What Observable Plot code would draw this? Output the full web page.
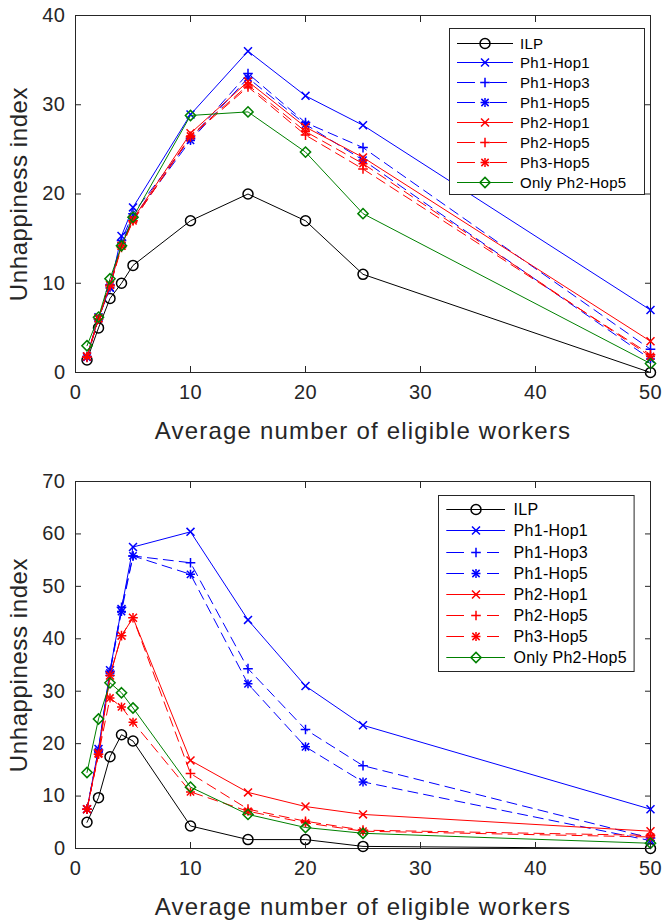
<!DOCTYPE html>
<html><head><meta charset="utf-8">
<script src="https://cdn.jsdelivr.net/npm/d3@7"></script>
<script src="https://cdn.jsdelivr.net/npm/@observablehq/plot@0.6"></script>
<style>
body{margin:0;background:#fff;}
#wrap{position:relative;width:662px;height:924px;font-family:"Liberation Sans",Arial,sans-serif;}
.panel{position:relative;width:662px;height:462px;}
.panel svg{display:block;}
.legend{position:absolute;}
g[aria-label="x-axis label"], g[aria-label="y-axis label"]{font-size:24px !important;}
g[aria-label="x-axis label"] text{letter-spacing:1.2px;}
g[aria-label="y-axis label"] text{letter-spacing:0.6px;}
g[aria-label="x-axis tick label"] text, g[aria-label="y-axis tick label"] text{letter-spacing:0.5px;}
</style></head><body><div id="wrap"></div>
<script>
const xVals = [1, 2, 3, 4, 5, 10, 15, 20, 25, 50];
const seriesNames = ["ILP", "Ph1-Hop1", "Ph1-Hop3", "Ph1-Hop5", "Ph2-Hop1", "Ph2-Hop5", "Ph3-Hop5", "Only Ph2-Hop5"];
const seriesColors = ["#000000", "#0000ff", "#0000ff", "#0000ff", "#ff0000", "#ff0000", "#ff0000", "#008000"];
const seriesDashed = [false, false, true, true, false, true, true, false];
const seriesMarkers = ["o", "x", "+", "*", "x", "+", "*", "d"];

// Top panel
const ilpTop    = [1.4, 5.0, 8.3, 10.0, 12.0, 17.0, 20.0, 17.0, 11.0, 0.0];
const p1h1Top   = [1.8, 6.2, 9.5, 15.3, 18.5, 28.9, 36.0, 31.0, 27.7, 7.0];
const p1h3Top   = [1.8, 6.0, 9.8, 14.8, 17.8, 26.2, 33.5, 28.0, 25.2, 2.6];
const p1h5Top   = [1.7, 6.0, 9.5, 14.5, 17.3, 26.0, 33.0, 27.8, 23.8, 1.5];
const p2h1Top   = [1.8, 6.1, 9.8, 14.2, 17.2, 26.8, 32.6, 27.5, 24.1, 3.5];
const p2h5Top   = [1.7, 6.0, 9.7, 14.0, 17.0, 26.4, 32.0, 26.6, 22.8, 2.0];
const p3h5Top   = [1.8, 6.0, 9.8, 14.2, 17.0, 26.5, 32.2, 27.0, 23.4, 1.8];
const onlyTop   = [3.0, 6.2, 10.5, 14.2, 17.4, 28.8, 29.2, 24.7, 17.8, 1.0];

// Bottom panel
const ilpBot    = [5.0, 9.7, 17.5, 21.7, 20.5, 4.3, 1.7, 1.7, 0.4, 0.0];
const p1h1Bot   = [7.5, 19.0, 34.0, 45.7, 57.5, 60.4, 43.6, 31.0, 23.5, 7.5];
const p1h3Bot   = [7.5, 18.8, 33.8, 46.0, 55.8, 54.5, 34.3, 22.7, 15.8, 2.0];
const p1h5Bot   = [7.5, 18.5, 33.5, 45.2, 55.8, 52.3, 31.4, 19.4, 12.7, 1.5];
const p2h1Bot   = [7.5, 18.2, 33.0, 40.6, 44.0, 16.8, 10.7, 8.0, 6.5, 3.3];
const p2h5Bot   = [7.5, 18.0, 33.0, 40.6, 44.0, 14.3, 7.5, 5.2, 3.5, 2.5];
const p3h5Bot   = [7.5, 18.0, 28.7, 27.0, 24.1, 10.8, 7.1, 4.9, 3.3, 2.2];
const onlyBot   = [14.5, 24.7, 31.6, 29.7, 26.8, 11.7, 6.5, 4.0, 2.9, 1.0];

const xTicks = [0, 10, 20, 30, 40, 50];
const yTicksTop = [0, 10, 20, 30, 40];
const yTicksBot = [0, 10, 20, 30, 40, 50, 60, 70];
const xLabel = "Average number of eligible workers";
const yLabel = "Unhappiness index";

const markerDefs = {
  "o": [{symbol: "circle", r: 5}],
  "x": [{symbol: "times", r: 3.7}],
  "+": [{symbol: "plus", r: 3.2}],
  "*": [{symbol: "plus", r: 3.0}, {symbol: "times", r: 3.4}],
  "d": [{symbol: "diamond2", r: 4.6}]
};
const d3Sym = {circle: d3.symbolCircle, times: d3.symbolTimes, plus: d3.symbolPlus, diamond2: d3.symbolDiamond2};

function makePanel(seriesData, yDomain, yTicks, m) {
  const marks = [Plot.frame({stroke: "#262626", strokeWidth: 1})];
  seriesNames.forEach((name, si) => {
    const rows = xVals.map((x, i) => ({x, y: seriesData[si][i], series: name}));
    marks.push(Plot.line(rows, {x: "x", y: "y", stroke: seriesColors[si], strokeWidth: 1,
      strokeDasharray: seriesDashed[si] ? "10,6" : null}));
    markerDefs[seriesMarkers[si]].forEach(md => {
      marks.push(Plot.dot(rows, {x: "x", y: "y", symbol: md.symbol, r: md.r, stroke: seriesColors[si], strokeWidth: 1.5, fill: "none"}));
    });
  });
  marks.push(
    Plot.axisX(xTicks, {anchor: "bottom", tickSize: -6, text: null, label: null, stroke: "#262626"}),
    Plot.axisX(xTicks, {anchor: "top", tickSize: -6, text: null, label: null, stroke: "#262626"}),
    Plot.axisY(yTicks, {anchor: "left", tickSize: -6, text: null, label: null, stroke: "#262626"}),
    Plot.axisY(yTicks, {anchor: "right", tickSize: -6, text: null, label: null, stroke: "#262626"}),
    Plot.axisX(xTicks, {anchor: "bottom", tickSize: 0, tickPadding: 12, label: xLabel, labelAnchor: "center", labelArrow: "none", labelOffset: m.xLabelOffset, fill: "#262626"}),
    Plot.axisY(yTicks, {anchor: "left", tickSize: 0, tickPadding: 10, label: yLabel, labelAnchor: "center", labelOffset: m.yLabelOffset, labelArrow: "none", fill: "#262626"})
  );
  return Plot.plot({
    width: 662, height: 462,
    marginLeft: 75, marginRight: 12, marginTop: m.top, marginBottom: m.bottom,
    x: {domain: [0, 50]},
    y: {domain: yDomain},
    style: {fontFamily: "'Liberation Sans', Arial, sans-serif", fontSize: "20px", color: "#262626", background: "#fff"},
    marks
  });
}

function makeLegend(box) {
  const svg = d3.create("svg").attr("width", box.w + 2).attr("height", box.h + 2);
  svg.append("rect").attr("x", 0.5).attr("y", 0.5).attr("width", box.w).attr("height", box.h)
    .attr("fill", "#fff").attr("stroke", "#262626").attr("stroke-width", 1);
  seriesNames.forEach((name, si) => {
    const y = Math.round(box.row0 + si * box.dy) + 0.5;
    const g = svg.append("g");
    if (seriesDashed[si]) {
      box.dashSegs.forEach(([a, b]) => g.append("line").attr("x1", a).attr("x2", b).attr("y1", y).attr("y2", y)
        .attr("stroke", seriesColors[si]).attr("stroke-width", 1));
    } else {
      g.append("line").attr("x1", box.l0).attr("x2", box.l1).attr("y1", y).attr("y2", y)
        .attr("stroke", seriesColors[si]).attr("stroke-width", 1);
    }
    markerDefs[seriesMarkers[si]].forEach(md => {
      g.append("path").attr("d", d3.symbol(d3Sym[md.symbol], Math.PI * md.r * md.r)())
        .attr("transform", `translate(${box.mx},${y})`)
        .attr("fill", "none").attr("stroke", seriesColors[si]).attr("stroke-width", 1.5);
    });
    g.append("text").attr("x", box.tx).attr("y", y).attr("dy", "0.35em")
      .attr("font-family", "'Liberation Sans', Arial, sans-serif").attr("font-size", box.fs)
      .attr("letter-spacing", "0.3px").attr("fill", "#000").text(name);
  });
  return svg.node();
}

const wrap = document.getElementById("wrap");
const panels = [
  {data: [ilpTop, p1h1Top, p1h3Top, p1h5Top, p2h1Top, p2h5Top, p3h5Top, onlyTop], dom: [0, 40], ticks: yTicksTop,
   m: {top: 15, bottom: 90, xLabelOffset: 66, yLabelOffset: 66},
   leg: {left: 449, top: 28, w: 195, h: 166, row0: 14.5, dy: 19.9, l0: 8, l1: 64, mx: 36, tx: 71, fs: 15,
         dashSegs: [[8, 26], [41, 58]]}},
  {data: [ilpBot, p1h1Bot, p1h3Bot, p1h5Bot, p2h1Bot, p2h5Bot, p3h5Bot, onlyBot], dom: [0, 70], ticks: yTicksBot,
   m: {top: 19, bottom: 76, xLabelOffset: 66, yLabelOffset: 66},
   leg: {left: 437.7, top: 33, w: 195.6, h: 176, row0: 14.3, dy: 21.1, l0: 8.3, l1: 67, mx: 38, tx: 75.6, fs: 16,
         dashSegs: [[8.3, 26], [49, 61]]}}
];
panels.forEach(p => {
  const div = document.createElement("div");
  div.className = "panel";
  div.appendChild(makePanel(p.data, p.dom, p.ticks, p.m));
  const lg = document.createElement("div");
  lg.className = "legend";
  lg.style.left = p.leg.left + "px";
  lg.style.top = p.leg.top + "px";
  lg.appendChild(makeLegend(p.leg));
  div.appendChild(lg);
  wrap.appendChild(div);
});
</script></body></html>
